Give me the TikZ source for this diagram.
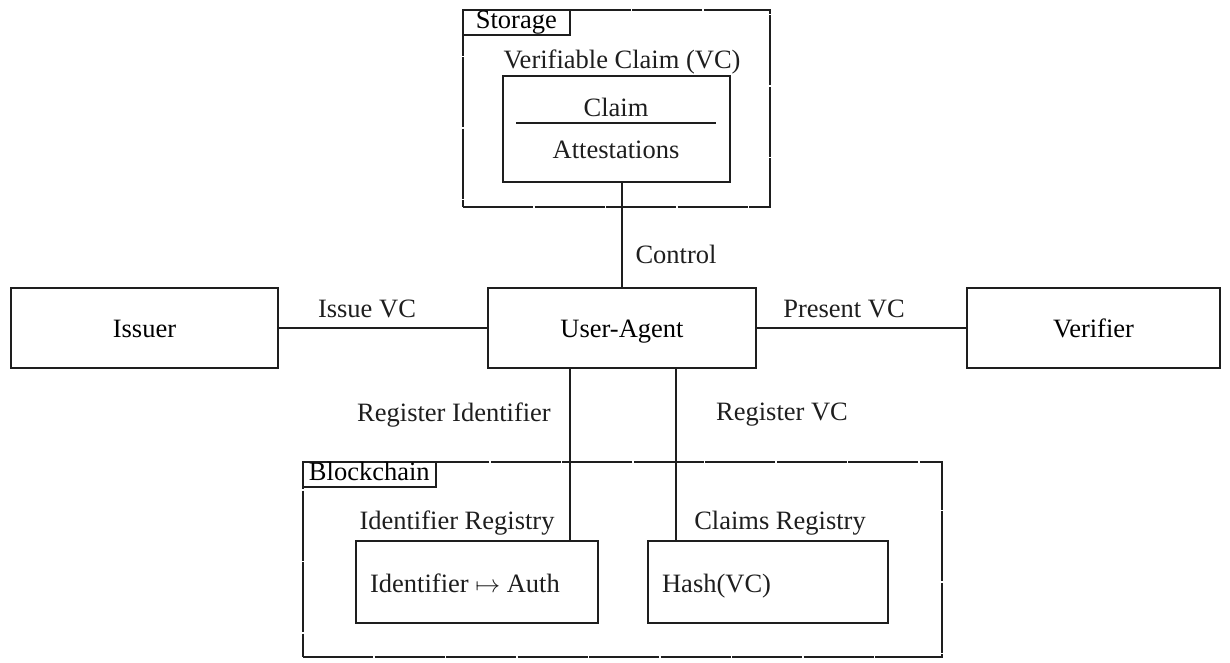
\documentclass[tikz,border=0pt]{standalone}
\usepackage{fontspec}
\setmainfont{Liberation Serif}
\usepackage{amsmath}
\usepackage{tikz}
\usepackage{xcolor}
\definecolor{black}{RGB}{30,30,30}

\tikzset{
  box/.style={draw=black, line width=2.2pt, inner sep=0pt, text height=19pt, text depth=1pt},
  container/.style={draw=black, line width=2.2pt, dash pattern=on 70pt off 1.5pt, inner sep=0pt},
  tag/.style={draw=black, line width=1.8pt, anchor=north west, inner sep=0pt, minimum height=25, text height=18pt, text depth=5pt},
  wire/.style={draw=black, line width=2.2pt},
  txt/.style={inner sep=0pt, text=black}
}

\begin{document}
\begin{tikzpicture}[x=1pt, y=-1pt, font=\fontsize{26.5}{30}\selectfont]
        \useasboundingbox (0, 0) rectangle (1230, 662);

        % storage with the verifiable claim
        \node[container, minimum width=307, minimum height=197] (storage) at (616.5, 108.5) {};
        \node[tag, minimum width=107] (storagetag) at (storage.north west) {Storage};
        \node[box, minimum width=227, minimum height=106] (vc) at (616.5, 129) {};
        \node[txt] (vclabel) at (622, 62) {Verifiable Claim (VC)};
        \node[txt] (claim) at (616, 107) {Claim};
        \node[txt] (attest) at (616, 150) {Attestations};
        \draw[wire] (516, 123) -- (716, 123);

        % the three parties
        \node[box, minimum width=267, minimum height=80] (issuer) at (144.5, 328) {Issuer};
        \node[box, minimum width=268, minimum height=80] (agent) at (622, 328) {User-Agent};
        \node[box, minimum width=253, minimum height=80] (verifier) at (1093.5, 328) {Verifier};

        % blockchain with the registries
        \node[container, minimum width=639, minimum height=195] (chain) at (622.5, 559.5) {};
        \node[tag, minimum width=133] (chaintag) at (chain.north west) {Blockchain};
        \node[box, minimum width=242, minimum height=82] (idreg) at (477, 582) {};
        \node[box, minimum width=240, minimum height=82] (clreg) at (768, 582) {};
        \node[txt] (idreglabel) at (457, 523) {Identifier Registry};
        \node[txt] (clreglabel) at (780, 523) {Claims Registry};
        \node[txt, anchor=base west] (idmap) at ([xshift=15, yshift=-10]idreg.west) {Identifier $\mapsto$ Auth};
        \node[txt, anchor=base west] (hash) at ([xshift=15, yshift=-10]clreg.west) {Hash(VC)};

        % connectors
        \draw[wire] (agent.north) -- (agent.north |- vc.south);
        \draw[wire] (issuer.east) -- (agent.west);
        \draw[wire] (agent.east) -- (verifier.west);
        \draw[wire] ([xshift=-52]agent.south) -- ([xshift=-52]agent.south |- idreg.north);
        \draw[wire] ([xshift=54]agent.south) -- ([xshift=54]agent.south |- clreg.north);

        \node[txt] (control) at (676, 254) {Control};
        \node[txt] (issue) at (367, 309) {Issue VC};
        \node[txt] (present) at (844, 309) {Present VC};
        \node[txt] (regid) at (454, 415) {Register Identifier};
        \node[txt] (regvc) at (782, 415) {Register VC};
    \end{tikzpicture}
\end{document}
